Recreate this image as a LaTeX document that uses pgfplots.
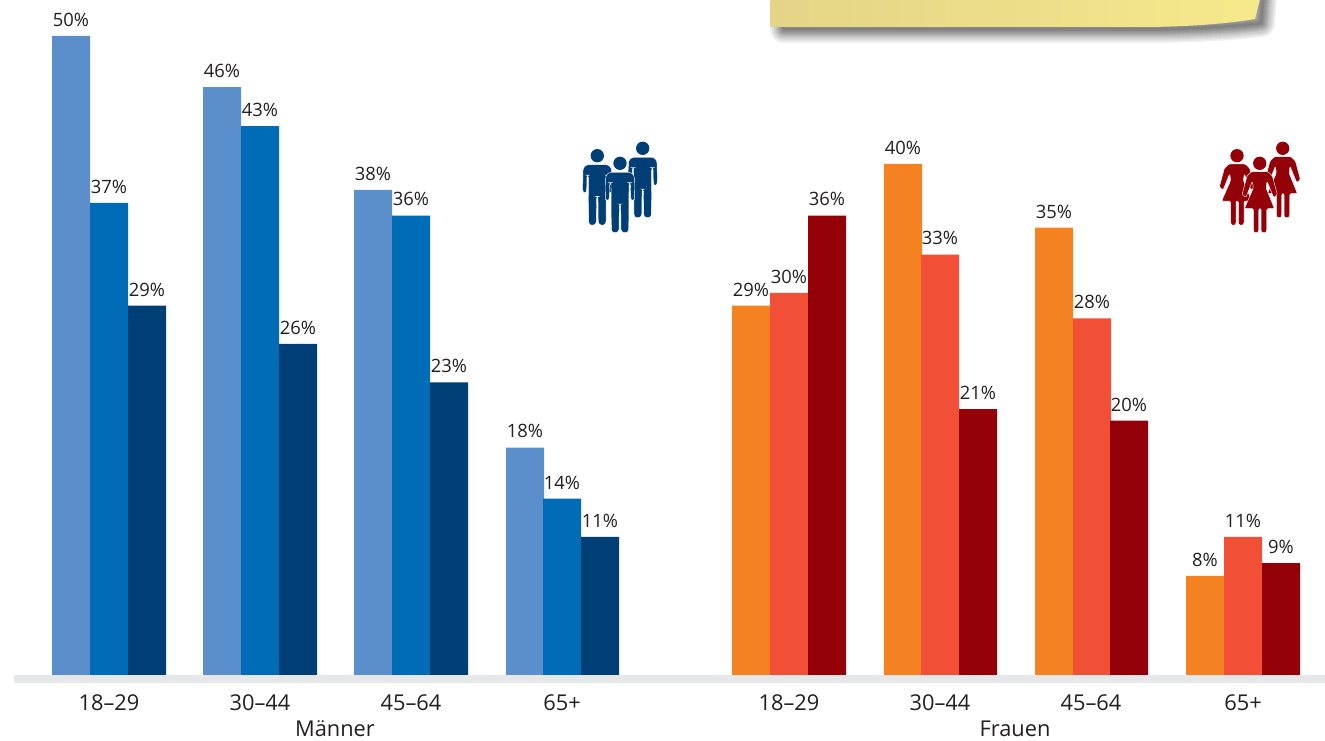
\documentclass[border=0pt]{standalone}
\usepackage{pgfplots}
\pgfplotsset{compat=1.18}
\usepackage{fontspec}
\setmainfont{Open Sans}
\definecolor{mA}{HTML}{5B8FCB}
\definecolor{mB}{HTML}{006BB6}
\definecolor{mC}{HTML}{003F75}
\definecolor{fA}{HTML}{F58220}
\definecolor{fB}{HTML}{F15036}
\definecolor{fC}{HTML}{930008}
\definecolor{txt}{HTML}{231F20}
\definecolor{band}{HTML}{E6E7E8}
\definecolor{noteL}{HTML}{E3D488}
\definecolor{noteR}{HTML}{F6E98B}
\newcommand\man[2]{%
 \begin{scope}[shift={(#1,#2)},x=0.16667pt,y=-0.16667pt]
  \fill[mC] (0,0) circle (20);
  \fill[mC,draw=white,line width=0.2pt,rounded corners=1.2pt] (-33,27)--(33,27)--(43,38)--(44,108)--(37,114)--(32,108)--(31,58)--(27,58)--(26,205)--(16,210)--(3,205)--(2,122)--(-2,122)--(-3,205)--(-16,210)--(-26,205)--(-27,58)--(-31,58)--(-32,108)--(-37,114)--(-44,108)--(-43,38)--cycle;
 \end{scope}}
\newcommand\woman[2]{%
 \begin{scope}[shift={(#1,#2)},x=0.16667pt,y=-0.16667pt]
  \fill[fC] (0,0) circle (20);
  \fill[fC,draw=white,line width=0.2pt,rounded corners=0.6pt] (-25,25)--(25,25)--(38,38)--(53,94)--(42,103)--(22,54)--(19,74)--(44,136)--(21,136)--(21,205)--(12,210)--(4,205)--(4,136)--(-3,136)--(-3,205)--(-11,210)--(-19,205)--(-19,136)--(-46,136)--(-19,74)--(-22,54)--(-42,103)--(-53,94)--(-38,38)--cycle;
 \end{scope}}
\begin{document}
\begin{tikzpicture}
\useasboundingbox (0,0) rectangle (662.5pt,370pt);
\begin{axis}[
  at={(0,32.5pt)}, anchor=south west,
  scale only axis, width=662.5pt, height=337.5pt,
  xmin=0, xmax=1325, ymin=0, ymax=52.817,
  axis line style={draw=none}, tick style={draw=none},
  major tick length=0pt,
  ytick=\empty,
  xtick={109,260,411,562,789,940,1091,1243},
  xticklabels={18--29,30--44,45--64,65+,18--29,30--44,45--64,65+},
  xticklabel style={font=\fontsize{10.9}{12}\selectfont,text=txt,inner sep=0pt,anchor=base,yshift=-17.5pt},
  point meta=explicit,
  bar width=38,
  every axis plot/.append style={ybar,bar shift=0pt,draw=none},
  nodes near coords={\pgfmathprintnumber[assume math mode=true,precision=0]{\pgfplotspointmeta}\%},
  nodes near coords style={font=\fontsize{9.2}{11}\selectfont,text=txt,inner sep=0pt,anchor=south,yshift=4.5pt},
  clip=false,
]
\addplot[fill=mA] coordinates {(71,50)[50] (222,46)[46] (373,37.95)[38] (525,17.8)[18]};
\addplot[fill=mB] coordinates {(109,36.95)[37] (260,42.95)[43] (411,35.95)[36] (562,13.8)[14]};
\addplot[fill=mC] coordinates {(147,28.9)[29] (298,25.9)[26] (449,22.9)[23] (600,10.8)[11]};
\addplot[fill=fA] coordinates {(751,28.9)[29] (903,40)[40] (1054,35)[35] (1205,7.75)[8]};
\addplot[fill=fB] coordinates {(789,29.9)[30] (940,32.9)[33] (1092,27.9)[28] (1243,10.8)[11]};
\addplot[fill=fC] coordinates {(827,35.95)[36] (978,20.8)[21] (1129,19.9)[20] (1281,8.76)[9]};
\end{axis}
\begin{scope}[x=0.5pt,y=-0.5pt,shift={(0,370pt)}]
  \fill[band] (14,675) rectangle (1325,682.7);
  \node[font=\fontsize{10.9}{12}\selectfont,text=txt,inner sep=0pt,anchor=base] at (335,736.5) {Männer};
  \node[font=\fontsize{10.9}{12}\selectfont,text=txt,inner sep=0pt,anchor=base] at (1015,736.5) {Frauen};
  % note with shadow
  \begin{scope}
   \clip (740,0) rectangle (1300,60);
   \foreach \w in {2,4,6,8,10,12,14,16,19,22,25,28}{
    \draw[black,opacity=0.055,line width=\w*0.5pt,line join=round]
      (784,-30)--(784,29) -- (1138,29) .. controls (1190,29) and (1230,27) .. (1261,23) -- (1265,-30)--cycle;
   }
  \end{scope}
  \shade[left color=noteL,right color=noteR] (770.5,-1)--(770.5,27)--(1138,27) .. controls (1185,27) and (1225,24) .. (1255,19) -- (1260,-1)--cycle;
  % icons
  \man{597.3}{155.7}
  \man{642.7}{148.3}
  \man{620}{163.3}
  \woman{1237}{155.7}
  \woman{1282.7}{148.3}
  \woman{1259.7}{163.3}
\end{scope}
\end{tikzpicture}
\end{document}
